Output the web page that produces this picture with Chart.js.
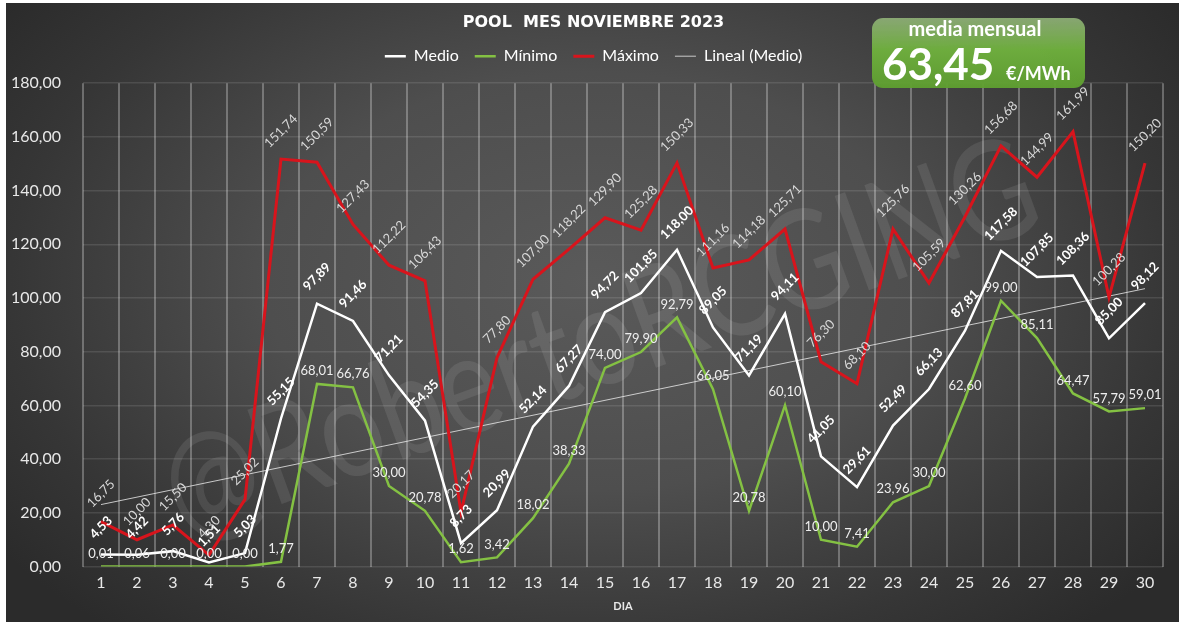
<!DOCTYPE html>
<html>

<head>
   <meta charset="UTF-8">
   <title>Pool mes noviembre 2023</title>
   <script src="https://cdn.jsdelivr.net/npm/chart.js@4.4.0/dist/chart.umd.min.js"></script>
   <style>
      html, body { margin: 0; padding: 0; background: #fff; }
      #panel {
         position: absolute; left: 6px; top: 3px; width: 1173px; height: 619px;
         background: radial-gradient(ellipse 62% 75% at 50% 45%, #5a5a5a 0%, #4e4e4e 45%, #363636 80%, #2b2b2b 100%);
      }
      #chartContainer { position: absolute; left: 0; top: 0; width: 1179px; height: 622px; }
   </style>
</head>

<body>
   <div id="panel"></div>
   <div id="chartContainer"><canvas id="grafico" width="1179" height="622"></canvas></div>

   <script>
      // dias del mes
      const dias = ["1", "2", "3", "4", "5", "6", "7", "8", "9", "10", "11", "12", "13", "14", "15",
         "16", "17", "18", "19", "20", "21", "22", "23", "24", "25", "26", "27", "28", "29", "30"];

      // precios (€/MWh)
      const medio = [4.53, 4.42, 5.76, 1.51, 5.03, 55.15, 97.89, 91.46, 71.21, 54.35,
         8.73, 20.99, 52.14, 67.27, 94.72, 101.85, 118.00, 89.05, 71.19, 94.11,
         41.05, 29.61, 52.49, 66.13, 87.81, 117.58, 107.85, 108.36, 85.00, 98.12];
      const minimo = [0.01, 0.06, 0.00, 0.00, 0.00, 1.77, 68.01, 66.76, 30.00, 20.78,
         1.62, 3.42, 18.02, 38.33, 74.00, 79.90, 92.79, 66.05, 20.78, 60.10,
         10.00, 7.41, 23.96, 30.00, 62.60, 99.00, 85.11, 64.47, 57.79, 59.01];
      const maximo = [16.75, 10.00, 15.50, 4.30, 25.02, 151.74, 150.59, 127.43, 112.22, 106.43,
         20.17, 77.80, 107.00, 118.22, 129.90, 125.28, 150.33, 111.16, 114.18, 125.71,
         76.30, 68.10, 125.76, 105.59, 130.26, 156.68, 144.99, 161.99, 100.28, 150.20];
      // tendencia lineal (extremos)
      const linealExtremos = [23.1, 103.5];

      const yTicks = [0, 20, 40, 60, 80, 100, 120, 140, 160, 180];

      const fmt = v => v.toFixed(2).replace(".", ",");
      const mediaMensual = medio.reduce((a, b) => a + b, 0) / medio.length;

      const lineal = dias.map((d, i) =>
         i == 0 ? linealExtremos[0] : (i == dias.length - 1 ? linealExtremos[1] : null));

      // estilo de las etiquetas de cada serie
      const estiloEtiquetas = {
         "Medio": { font: "bold 13px Lato", color: "#ffffff", dy: 27, rot: -Math.PI / 4 },
         "Mínimo": { font: "13px Lato", color: "#eeeeee", dy: 13, rot: 0 },
         "Máximo": { font: "13px Lato", color: "#d8d8d8", dy: 28, rot: -Math.PI / 4 }
      };

      // marca de agua
      const fondoTexto = {
         id: "fondoTexto",
         beforeDatasetsDraw(chart) {
            const ctx = chart.ctx;
            ctx.save();
            ctx.translate(600, 340);
            ctx.rotate(-20 * Math.PI / 180);
            ctx.font = "140px Lato";
            ctx.textAlign = "center";
            ctx.textBaseline = "middle";
            ctx.fillStyle = "rgba(255,255,255,0.09)";
            ctx.fillText("@RobertoRCGING", 0, 0, 920);
            ctx.restore();
         }
      };

      // etiquetas de valores
      const etiquetas = {
         id: "etiquetas",
         afterDatasetsDraw(chart) {
            const ctx = chart.ctx;
            chart.data.datasets.forEach((ds, i) => {
               const e = estiloEtiquetas[ds.label];
               if (!e) return;
               const meta = chart.getDatasetMeta(i);
               meta.data.forEach((pt, j) => {
                  ctx.save();
                  ctx.translate(pt.x, pt.y - e.dy);
                  ctx.rotate(e.rot);
                  ctx.font = e.font;
                  ctx.fillStyle = e.color;
                  ctx.textAlign = "center";
                  ctx.textBaseline = "middle";
                  ctx.fillText(fmt(ds.data[j]), 0, 0);
                  ctx.restore();
               });
            });
         }
      };

      // recuadro "media mensual"
      const recuadro = {
         id: "recuadro",
         afterDraw(chart) {
            const ctx = chart.ctx;
            const x = 872, y = 18, w = 213, h = 70;
            ctx.save();
            const g = ctx.createLinearGradient(0, y, 0, y + h);
            g.addColorStop(0, "rgba(150,185,125,0.85)");
            g.addColorStop(0.45, "rgba(112,178,62,0.95)");
            g.addColorStop(1, "rgba(95,160,48,0.95)");
            ctx.fillStyle = g;
            ctx.beginPath();
            ctx.roundRect(x, y, w, h, 11);
            ctx.fill();
            ctx.fillStyle = "#ffffff";
            ctx.textBaseline = "alphabetic";
            ctx.textAlign = "center";
            ctx.font = "bold 20px Lato";
            ctx.fillText("media mensual", 975, 36);
            ctx.textAlign = "left";
            ctx.font = "bold 44px Lato";
            ctx.fillText(fmt(mediaMensual), 882, 80);
            ctx.font = "bold 18px Lato";
            ctx.fillText("€/MWh", 1006, 80);
            ctx.restore();
         }
      };

      Chart.defaults.font.family = "Lato";

      const chart = new Chart(document.getElementById("grafico"), {
         type: "line",
         data: {
            labels: dias,
            datasets: [
               {
                  label: "Medio", data: medio, borderColor: "#ffffff", backgroundColor: "#ffffff",
                  borderWidth: 2.5, pointRadius: 0, tension: 0
               },
               {
                  label: "Mínimo", data: minimo, borderColor: "#84c143", backgroundColor: "#84c143",
                  borderWidth: 2.5, pointRadius: 0, tension: 0
               },
               {
                  label: "Máximo", data: maximo, borderColor: "#d8141c", backgroundColor: "#d8141c",
                  borderWidth: 3, pointRadius: 0, tension: 0
               },
               {
                  label: "Lineal (Medio)", data: lineal, borderColor: "rgba(235,235,235,0.8)",
                  backgroundColor: "rgba(235,235,235,0.8)",
                  borderWidth: 1, pointRadius: 0, tension: 0, spanGaps: true
               }
            ]
         },
         options: {
            responsive: false,
            animation: false,
            layout: { padding: { left: 12, right: 4, top: 0, bottom: 6 } },
            plugins: {
               title: {
                  display: true,
                  text: "POOL  MES NOVIEMBRE 2023",
                  color: "#ffffff",
                  font: { family: "DejaVu Sans", size: 16, weight: "bold" },
                  padding: { top: 13, bottom: 0 }
               },
               legend: {
                  display: true,
                  labels: {
                     color: "#ffffff",
                     font: { size: 16 },
                     usePointStyle: true,
                     pointStyle: "line",
                     pointStyleWidth: 21,
                     padding: 16
                  }
               },
               // separacion entre leyenda y grafico
               subtitle: {
                  display: true,
                  text: "",
                  weight: 500,
                  font: { size: 9, lineHeight: 1 },
                  padding: { top: 0, bottom: 0 }
               },
               tooltip: { enabled: false }
            },
            scales: {
               x: {
                  offset: true,
                  grid: { offset: true, color: "rgba(255,255,255,0.28)", lineWidth: 2, drawTicks: false },
                  border: { display: false },
                  ticks: { color: "#e8e8e8", font: { size: 16 }, padding: 7 },
                  title: {
                     display: true, text: "DIA", color: "#e8e8e8",
                     font: { size: 11, weight: "bold" }, padding: { top: 0, bottom: 3 }
                  }
               },
               y: {
                  min: 0,
                  max: 180,
                  afterBuildTicks: s => { s.ticks = yTicks.map(v => ({ value: v })); },
                  afterFit: s => { s.width = 71; },
                  grid: { color: "rgba(255,255,255,0.11)", lineWidth: 1.5, drawTicks: false },
                  border: { display: false },
                  ticks: { color: "#e8e8e8", font: { size: 16 }, padding: 22, callback: v => fmt(v) }
               },
               espacio: {
                  position: "right",
                  grid: { display: false },
                  border: { display: false },
                  ticks: { display: false },
                  afterFit: s => { s.width = 12; }
               }
            }
         },
         plugins: [fondoTexto, etiquetas, recuadro]
      });
   </script>
</body>

</html>
